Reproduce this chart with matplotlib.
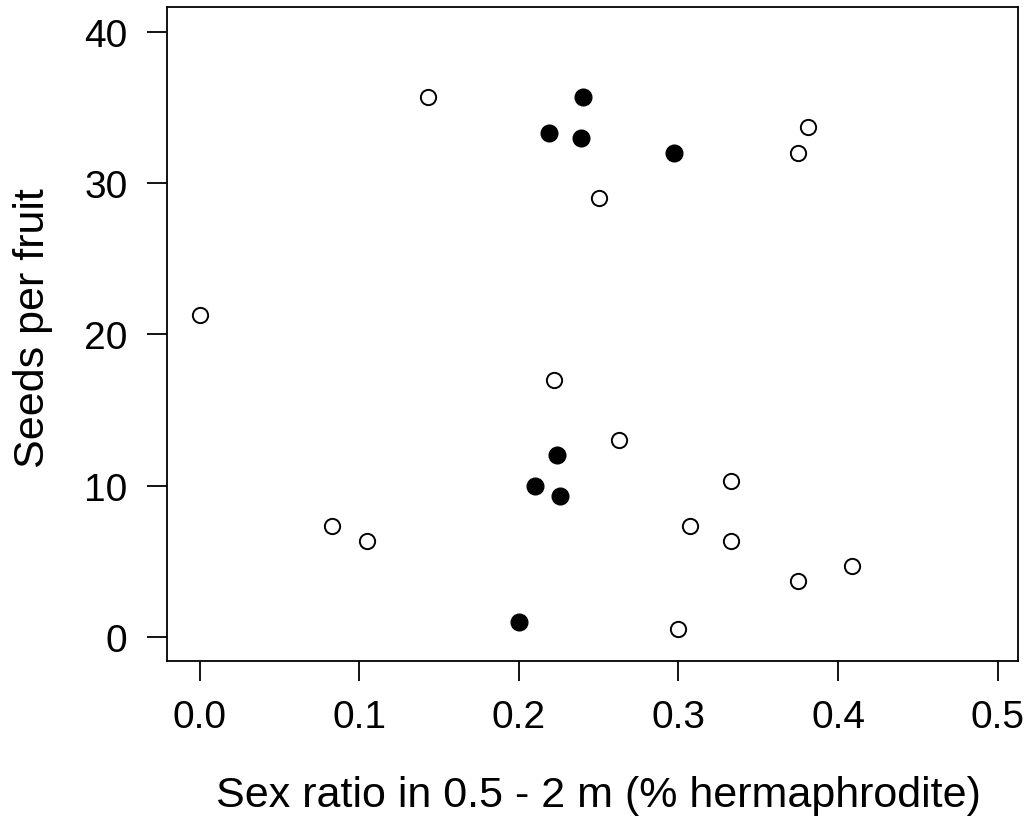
import matplotlib
matplotlib.use('Agg')
import matplotlib.pyplot as plt

plt.rcParams['font.family'] = ['Liberation Sans', 'DejaVu Sans']

# --- DATA ---
open_x = [0.143, 0.381, 0.375, 0.250, 0.000, 0.222, 0.263, 0.333, 0.083,
          0.105, 0.307, 0.333, 0.409, 0.375, 0.300]
open_y = [35.7, 33.7, 32.0, 29.0, 21.3, 17.0, 13.0, 10.3, 7.33,
          6.33, 7.33, 6.33, 4.67, 3.67, 0.5]
filled_x = [0.240, 0.219, 0.239, 0.297, 0.224, 0.210, 0.226, 0.200]
filled_y = [35.7, 33.33, 33.0, 32.0, 12.0, 10.0, 9.33, 1.0]

x_ticks = [0.0, 0.1, 0.2, 0.3, 0.4, 0.5]
x_labels = ['0.0', '0.1', '0.2', '0.3', '0.4', '0.5']
y_ticks = [0, 10, 20, 30, 40]

fig = plt.figure(figsize=(10.32, 8.2), dpi=100)
ax = fig.add_axes([167 / 1032, 1 - 662 / 820, (1018 - 167) / 1032, (662 - 8) / 820])

ax.plot(open_x, open_y, 'o', ms=11, mfc='white', mec='black', mew=1.4, linestyle='none')
ax.plot(filled_x, filled_y, 'o', ms=12, mfc='black', mec='black', linestyle='none')

# axis limits matched to pixel positions of the reference
ax.set_xlim(-0.0204, 0.5127)
ax.set_ylim(-1.59, 41.65)

ax.set_xticks(x_ticks)
ax.set_xticklabels(x_labels)
ax.set_yticks(y_ticks)
ax.tick_params(direction='out', length=14.4, width=1.3, labelsize=28)
ax.tick_params(axis='x', pad=13)
ax.tick_params(axis='y', pad=14)
for s in ax.spines.values():
    s.set_linewidth(1.3)

ax.set_xlabel('Sex ratio in 0.5 - 2 m (% hermaphrodite)', fontsize=31)
ax.xaxis.label.set_va('baseline')
ax.xaxis.set_label_coords(0.507, -0.2217)

ax.set_ylabel('Seeds per fruit', fontsize=31)
ax.yaxis.label.set_va('baseline')
ax.yaxis.set_label_coords(-0.1445, 0.51)

fig.savefig('out.png', dpi=100)
